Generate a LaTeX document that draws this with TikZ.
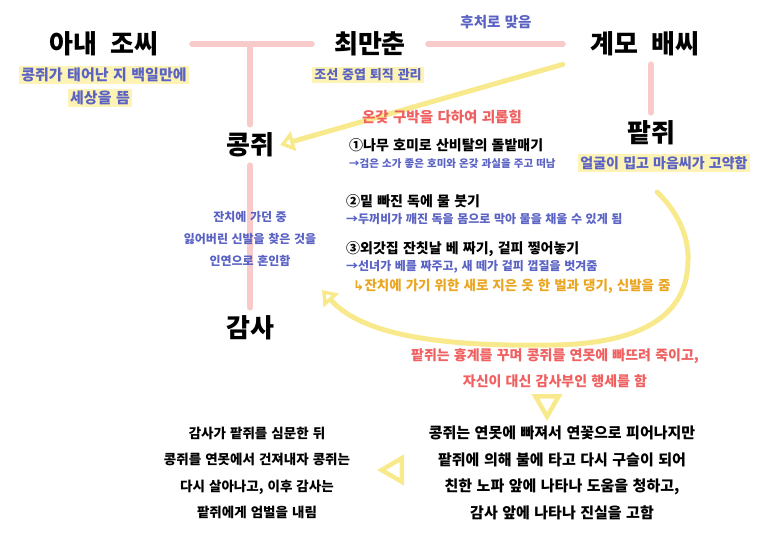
\documentclass[tikz,border=0pt]{standalone}
\usepackage{fontspec}
\newfontfamily\kr{Noto Sans CJK KR}
\newfontfamily\sym{DejaVu Sans}
\usepackage{xcolor}
\usetikzlibrary{positioning, arrows.meta, shapes.geometric, backgrounds}

\newcommand\krsize[3][0.3em]{\kr\bfseries\fontsize{#2}{#3}\selectfont\spaceskip #1\relax}

\definecolor{pinkline}{HTML}{F8CACA}
\definecolor{yellowline}{HTML}{F8EA8C}
\definecolor{hilite}{HTML}{FDF3B5}
\definecolor{bluetext}{HTML}{5A62C4}
\definecolor{redtext}{HTML}{F06060}
\definecolor{orangetext}{HTML}{EAA622}

\begin{document}
\begin{tikzpicture}[x=1pt, y=-1pt,
  person/.style={font={\krsize[0.5em]{26}{26}}, inner xsep=6pt, inner ysep=8pt},
  note/.style={font={\krsize{14}{14}}, text=bluetext, fill=hilite, inner sep=2pt},
  task/.style={font={\krsize{14}{14}}, anchor=west, inner sep=1pt},
  result/.style={font={\krsize{12}{12}}, text=bluetext, anchor=west, inner sep=1pt},
  gift/.style={result, text=orangetext, font={\krsize{13.5}{13.5}}},
  wedding/.style={font={\krsize{12}{22}}, text=bluetext, align=center},
  story/.style={font={\krsize{15}{26.5}}, align=center},
  redstory/.style={story, text=redtext, font={\krsize{14}{26}}},
  family/.style={draw=pinkline, line width=6pt, line cap=round},
  trouble/.style={draw=yellowline, line width=5pt, line cap=round, -{Triangle[open, length=14pt, width=20pt]}},
  marker/.style={regular polygon, regular polygon sides=3, draw=yellowline, line width=4.5pt, minimum size=27pt, inner sep=0pt}]
  \useasboundingbox (0,0) rectangle (774,542);

  \node[person, minimum width=176pt] (wife) at (104,44) {아내 조씨};
  \node[person, minimum width=116pt] (choi) at (370,44) {최만춘};
  \node[person, minimum width=164pt] (stepmom) at (645,44) {계모 배씨};
  \node[person] (kongjwi) at (250,145) {콩쥐};
  \node[person] (patjwi) at (651,133) {팥쥐};
  \node[person] (gamsa) at (250,328) {감사};

  \node[note, font={\krsize{15}{15}}] (wifenote1) at (104,75) {콩쥐가 태어난 지 백일만에};
  \node[note, font={\krsize{15}{15}}] (wifenote2) at (100,98) {세상을 뜸};
  \node[note, font={\krsize{13}{13}}] (choinote) at (368,75) {조선 중엽 퇴직 관리};
  \node[note] (patnote) at (664,163) {얼굴이 밉고 마음씨가 고약함};
  \node[font={\krsize{14.5}{14.5}}, text=bluetext] (remarry) at (496,22) {후처로 맞음};
  \node[font={\krsize{14.5}{14.5}}, text=redtext] (abuse) at (442,117) {온갖 구박을 다하여 괴롭힘};

  \node[task] (task1) at (348,145) {①나무 호미로 산비탈의 돌밭매기};
  \node[result, font={\krsize{10.5}{10.5}}] (help1) at (348,164) {→검은 소가 좋은 호미와 온갖 과실을 주고 떠남};
  \node[task] (task2) at (345,201) {②밑 빠진 독에 물 붓기};
  \node[result] (help2) at (345,219) {→두꺼비가 깨진 독을 몸으로 막아 물을 채울 수 있게 됨};
  \node[task] (task3) at (345,249) {③외갓집 잔칫날 베 짜기, 겉피 찧어놓기};
  \node[result] (help3) at (345,267) {→선녀가 베를 짜주고, 새 떼가 겉피 껍질을 벗겨줌};
  \node[gift] (gift3) at (352,286) {{\sym ↳}잔치에 가기 위한 새로 지은 옷 한 벌과 댕기, 신발을 줌};

  \node[wedding] (marriage) at (250,239) {잔치에 가던 중\\잃어버린 신발을 찾은 것을\\인연으로 혼인함};

  \node[redstory] (scheme) at (555,368) {팥쥐는 흉계를 꾸며 콩쥐를 연못에 빠뜨려 죽이고,\\자신이 대신 감사부인 행세를 함};
  \node[marker, rotate=180] (downmark) at (547,403) {};
  \node[story] (lotus) at (562,473) {콩쥐는 연못에 빠져서 연꽃으로 피어나지만\\팥쥐에 의해 불에 타고 다시 구슬이 되어\\친한 노파 앞에 나타나 도움을 청하고,\\감사 앞에 나타나 진실을 고함};
  \node[marker, rotate=90] (leftmark) at (395,470) {};
  \node[story, font={\krsize{13.5}{26.5}}] (ending) at (257,473) {감사가 팥쥐를 심문한 뒤\\콩쥐를 연못에서 건져내자 콩쥐는\\다시 살아나고, 이후 감사는\\팥쥐에게 엄벌을 내림};

  \coordinate (join) at (250,44);
  \coordinate (arcstart) at (657,192);
  \coordinate (arcend) at (322,290);

  \begin{scope}[on background layer]
    \draw[family] (wife) -- (choi);
    \draw[family] (choi) -- (stepmom);
    \draw[family] (join) -- (kongjwi);
    \draw[family] (kongjwi) -- (gamsa);
    \draw[family] (patjwi |- stepmom.south) -- (patjwi);
    \draw[trouble] (stepmom.south west) -- (kongjwi.east);
    \draw[trouble] (arcstart) .. controls (676,210) and (689,235) .. (688,260) .. controls (688,310) and (650,343) .. (555,345) .. controls (440,347) and (362,335) .. (arcend);
  \end{scope}
\end{tikzpicture}
\end{document}
